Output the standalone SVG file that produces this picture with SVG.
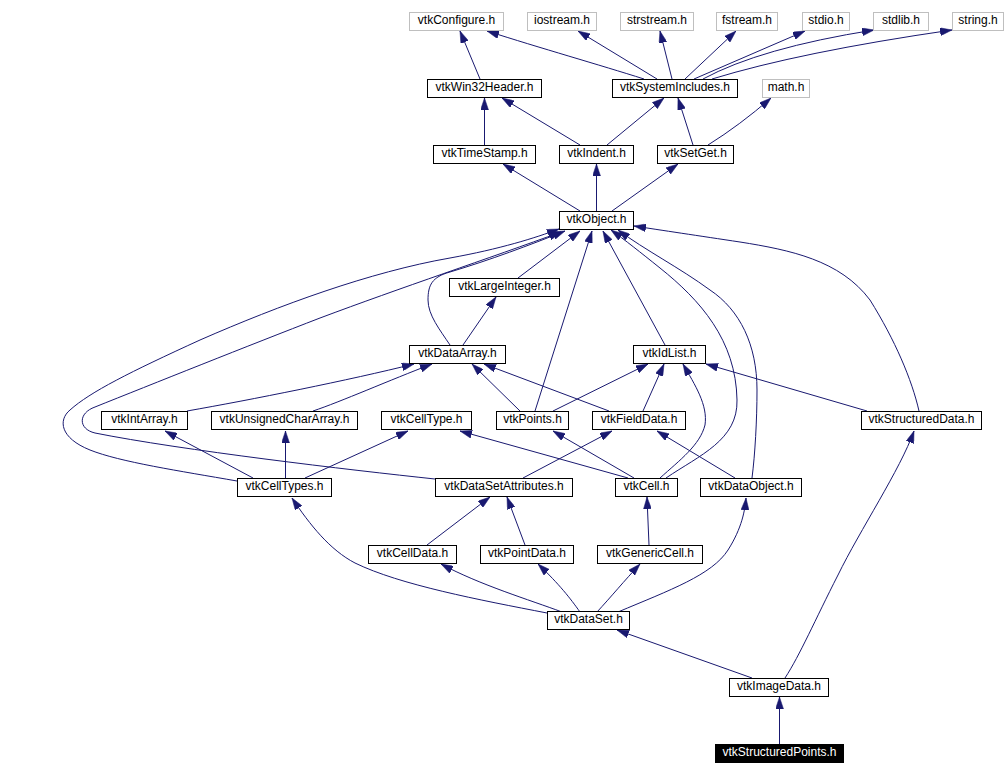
<svg xmlns="http://www.w3.org/2000/svg" width="1006" height="776" viewBox="0 0 1006 776">
<style>
.n rect{fill:#fff;stroke:#000;stroke-width:1}
.n.g rect{stroke:#bfbfbf}
.n.k rect{fill:#000}
.n.k text{fill:#fff}
text{font-family:"Liberation Sans",Arial,sans-serif;font-size:12px;text-anchor:middle;fill:#000}
#edges path{fill:none;stroke:#191970;stroke-width:1;marker-end:url(#a)}
</style>
<defs>
<marker id="a" markerUnits="userSpaceOnUse" markerWidth="12" markerHeight="8" viewBox="0 0 12 8" refX="12" refY="4" orient="auto">
<path d="M0,0 L12,4 L0,8 z" fill="#191970" stroke="#191970" stroke-width="0.5"/>
</marker>
</defs>
<rect width="1006" height="776" fill="#fff"/>
<g id="edges">
<path d="M480,79 L460,31"/>
<path d="M644,79 C600,65 540,48 487,31"/>
<path d="M657,79 L578,31"/>
<path d="M672,79 L660,31"/>
<path d="M685,79 L736,31"/>
<path d="M694,79 L805,31"/>
<path d="M703,79 Q760,48 874,30"/>
<path d="M712,79 Q800,52 952,30"/>
<path d="M484.5,145 L484.5,98"/>
<path d="M580,145 L502,98"/>
<path d="M607,145 L664,98"/>
<path d="M693,145 L678,98"/>
<path d="M708,145 Q740,125 771,98"/>
<path d="M580,211 L503,164"/>
<path d="M596.5,211 L596.5,164"/>
<path d="M612,211 L678,164"/>
<path d="M518,278 L580,231"/>
<path d="M450,345 C440,330 428,315 428,300 C428,285 432,277 450,272 C490,260 530,245 565,231"/>
<path d="M237,481 C180,471 120,462 90,450 C60,438 58,420 70,410 C90,392 130,372 200,340 C280,305 370,272 450,258 C500,249 535,238 559,229"/>
<path d="M435,479 C350,470 180,450 95,433 C78,429 78,413 95,407 C150,385 250,345 320,318 C400,288 490,258 561,232"/>
<path d="M535,411 L592,231"/>
<path d="M665,345 L603,231"/>
<path d="M666,478 C700,455 738,440 737,400 C736,340 700,300 660,268 C640,252 625,240 611,230"/>
<path d="M752,478 C755,455 757,420 757,390 C757,345 740,310 710,290 C680,268 645,250 618,230"/>
<path d="M919,411 C912,380 895,340 870,300 C840,260 790,250 740,242 C700,236 660,230 634,226"/>
<path d="M463,345 L496,297"/>
<path d="M187,411 C250,400 350,380 414,364"/>
<path d="M313,411 C340,402 390,380 432,364"/>
<path d="M520,411 L472,364"/>
<path d="M609,411 L484,364"/>
<path d="M553,411 L648,364"/>
<path d="M643,411 L664,364"/>
<path d="M660,478 C680,460 700,445 705,425 C708,405 695,385 683,364"/>
<path d="M867,411 L706,364"/>
<path d="M253,478 L165,431"/>
<path d="M285.5,478 L285.5,431"/>
<path d="M305,478 L408,431"/>
<path d="M628,478 L460,431"/>
<path d="M634,478 L553,431"/>
<path d="M523,478 L612,431"/>
<path d="M735,478 L657,431"/>
<path d="M427,545 L490,497"/>
<path d="M525,545 L507,497"/>
<path d="M649,545 L647,497"/>
<path d="M547,613 C480,600 400,585 355,563 C330,550 310,525 292,498"/>
<path d="M562,612 C530,600 480,585 441,564"/>
<path d="M580,612 C570,598 560,585 538,564"/>
<path d="M597,612 C610,598 625,580 640,564"/>
<path d="M618,612 C670,590 712,575 728,550 C742,528 745,510 746,498"/>
<path d="M752,678 L617,630"/>
<path d="M785,678 C800,655 815,620 838,575 C860,530 900,470 914,431"/>
<path d="M779.5,744 L779.5,697"/>
</g>
<g id="vtkConfigure" class="n g"><rect x="409.5" y="12.5" width="94" height="18"/><text x="456.5" y="24">vtkConfigure.h</text></g>
<g id="iostream" class="n g"><rect x="527.5" y="12.5" width="69" height="18"/><text x="562" y="24">iostream.h</text></g>
<g id="strstream" class="n g"><rect x="620.5" y="12.5" width="73" height="18"/><text x="657" y="24">strstream.h</text></g>
<g id="fstream" class="n g"><rect x="716.5" y="12.5" width="61" height="18"/><text x="747" y="24">fstream.h</text></g>
<g id="stdio" class="n g"><rect x="802.5" y="12.5" width="47" height="18"/><text x="826" y="24">stdio.h</text></g>
<g id="stdlib" class="n g"><rect x="873.5" y="12.5" width="55" height="18"/><text x="901" y="24">stdlib.h</text></g>
<g id="string" class="n g"><rect x="952.5" y="12.5" width="51" height="18"/><text x="978" y="24">string.h</text></g>
<g id="vtkWin32Header" class="n"><rect x="427.5" y="79.5" width="114" height="18"/><text x="484.5" y="91">vtkWin32Header.h</text></g>
<g id="vtkSystemIncludes" class="n"><rect x="612.5" y="79.5" width="125" height="18"/><text x="675" y="91">vtkSystemIncludes.h</text></g>
<g id="math" class="n g"><rect x="762.5" y="79.5" width="47" height="18"/><text x="786" y="91">math.h</text></g>
<g id="vtkTimeStamp" class="n"><rect x="433.5" y="145.5" width="102" height="18"/><text x="484.5" y="157">vtkTimeStamp.h</text></g>
<g id="vtkIndent" class="n"><rect x="559.5" y="145.5" width="74" height="18"/><text x="596.5" y="157">vtkIndent.h</text></g>
<g id="vtkSetGet" class="n"><rect x="657.5" y="145.5" width="76" height="18"/><text x="695.5" y="157">vtkSetGet.h</text></g>
<g id="vtkObject" class="n"><rect x="559.5" y="211.5" width="74" height="18"/><text x="596.5" y="223">vtkObject.h</text></g>
<g id="vtkLargeInteger" class="n"><rect x="449.5" y="278.5" width="110" height="18"/><text x="504.5" y="290">vtkLargeInteger.h</text></g>
<g id="vtkDataArray" class="n"><rect x="409.5" y="345.5" width="96" height="18"/><text x="457.5" y="357">vtkDataArray.h</text></g>
<g id="vtkIdList" class="n"><rect x="633.5" y="345.5" width="72" height="18"/><text x="669.5" y="357">vtkIdList.h</text></g>
<g id="vtkIntArray" class="n"><rect x="101.5" y="411.5" width="86" height="18"/><text x="144.5" y="423">vtkIntArray.h</text></g>
<g id="vtkUnsignedCharArray" class="n"><rect x="211.5" y="411.5" width="146" height="18"/><text x="284.5" y="423">vtkUnsignedCharArray.h</text></g>
<g id="vtkCellType" class="n"><rect x="381.5" y="411.5" width="90" height="18"/><text x="426.5" y="423">vtkCellType.h</text></g>
<g id="vtkPoints" class="n"><rect x="496.5" y="411.5" width="72" height="18"/><text x="532.5" y="423">vtkPoints.h</text></g>
<g id="vtkFieldData" class="n"><rect x="592.5" y="411.5" width="93" height="18"/><text x="639" y="423">vtkFieldData.h</text></g>
<g id="vtkStructuredData" class="n"><rect x="861.5" y="411.5" width="120" height="18"/><text x="921.5" y="423">vtkStructuredData.h</text></g>
<g id="vtkCellTypes" class="n"><rect x="237.5" y="478.5" width="94" height="18"/><text x="284.5" y="490">vtkCellTypes.h</text></g>
<g id="vtkDataSetAttributes" class="n"><rect x="435.5" y="478.5" width="137" height="18"/><text x="504" y="490">vtkDataSetAttributes.h</text></g>
<g id="vtkCell" class="n"><rect x="615.5" y="478.5" width="62" height="18"/><text x="646.5" y="490">vtkCell.h</text></g>
<g id="vtkDataObject" class="n"><rect x="700.5" y="478.5" width="101" height="18"/><text x="751" y="490">vtkDataObject.h</text></g>
<g id="vtkCellData" class="n"><rect x="368.5" y="545.5" width="88" height="18"/><text x="412.5" y="557">vtkCellData.h</text></g>
<g id="vtkPointData" class="n"><rect x="480.5" y="545.5" width="93" height="18"/><text x="527" y="557">vtkPointData.h</text></g>
<g id="vtkGenericCell" class="n"><rect x="597.5" y="545.5" width="105" height="18"/><text x="650" y="557">vtkGenericCell.h</text></g>
<g id="vtkDataSet" class="n"><rect x="547.5" y="611.5" width="82" height="18"/><text x="588.5" y="623">vtkDataSet.h</text></g>
<g id="vtkImageData" class="n"><rect x="729.5" y="678.5" width="99" height="18"/><text x="779" y="690">vtkImageData.h</text></g>
<g id="vtkStructuredPoints" class="n k"><rect x="715.5" y="744.5" width="128" height="18"/><text x="779.5" y="756">vtkStructuredPoints.h</text></g>
</svg>
